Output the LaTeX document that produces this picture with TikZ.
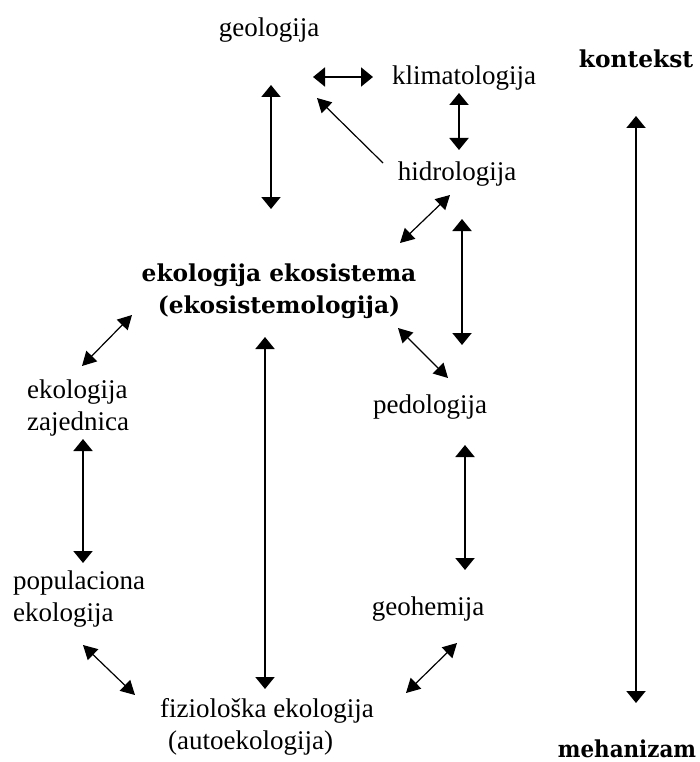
\documentclass[tikz,border=0pt]{standalone}
\usepackage{fontspec}
\usepackage{graphicx}
\setmainfont{Liberation Serif}
\newfontfamily\headfont{DejaVu Serif}[BoldFont={DejaVu Serif Bold}]
\usetikzlibrary{arrows.meta}
\begin{document}
\begin{tikzpicture}[x=1pt,y=-1pt,
  term/.style={inner sep=0pt, font=\fontsize{27}{32}\selectfont},
  keyterm/.style={inner sep=0pt, font=\headfont\bfseries\fontsize{23.3}{32}\selectfont},
  bigarrow/.style={line width=2pt, {Triangle[length=12pt,width=19pt]}-{Triangle[length=12pt,width=19pt]}},
  smallarrow/.style={line width=1.2pt, {Triangle[length=14pt,width=15pt]}-{Triangle[length=14pt,width=15pt]}},
  onearrow/.style={line width=1.2pt, -{Triangle[length=14pt,width=15pt]}}]
\useasboundingbox (0,0) rectangle (699,762);

% labels (multi-line labels are placed by the baseline of their last line)
\node[term, anchor=base] (geo)   at (269,37)  {geologija};
\node[term, anchor=base] (klim)  at (464,85)  {klimatologija};
\node[term, anchor=base] (hidro) at (457,180) {hidrologija};
\node[keyterm, anchor=base] (kont) at (636,68) {kontekst};
\node[keyterm, anchor=base, align=center] (eko) at (279,313) {ekologija ekosistema\\(ekosistemologija)};
\node[term, anchor=base west, align=left] (zaj) at (27,430) {ekologija\\zajednica};
\node[term, anchor=base] (ped) at (430,413) {pedologija};
\node[term, anchor=base west, align=left] (pop) at (13,621) {populaciona\\ekologija};
\node[term, anchor=base] (geoh) at (428,615) {geohemija};
\node[term, anchor=base west, align=left] (fiz) at (160,749) {fiziološka ekologija\\\hspace*{8pt}(autoekologija)};
\node[keyterm, anchor=base] (meh) at (627,757) {\scalebox{0.92}[1]{mehanizam}};

% connector end points
\coordinate (geoT) at (271,85);   \coordinate (geoB) at (271,209);
\coordinate (gkL) at (313,77);    \coordinate (gkR) at (373,77);
\coordinate (khT) at (459,93);    \coordinate (khB) at (459,150);
\coordinate (hgS) at (383,163);   \coordinate (hgE) at (317,98);
\coordinate (heL) at (400,243);   \coordinate (heR) at (450,195);
\coordinate (hpT) at (462,219);   \coordinate (hpB) at (462,345);
\coordinate (epL) at (398,328);   \coordinate (epR) at (448,378);
\coordinate (ezR) at (132,315);   \coordinate (ezL) at (82,366);
\coordinate (efT) at (265,337);   \coordinate (efB) at (265,689);
\coordinate (zpT) at (83,439);    \coordinate (zpB) at (83,563);
\coordinate (pgT) at (465,445);   \coordinate (pgB) at (465,570);
\coordinate (pfL) at (83,645);    \coordinate (pfR) at (135,695);
\coordinate (gfR) at (457,643);   \coordinate (gfL) at (406,693);
\coordinate (kmT) at (636,116);   \coordinate (kmB) at (636,703);

% connectors
\draw[bigarrow] (geoT) -- (geoB);
\draw[bigarrow] (gkL) -- (gkR);
\draw[bigarrow] (khT) -- (khB);
\draw[onearrow] (hgS) -- (hgE);
\draw[smallarrow] (heL) -- (heR);
\draw[bigarrow] (hpT) -- (hpB);
\draw[smallarrow] (epL) -- (epR);
\draw[smallarrow] (ezR) -- (ezL);
\draw[bigarrow] (efT) -- (efB);
\draw[bigarrow] (zpT) -- (zpB);
\draw[bigarrow] (pgT) -- (pgB);
\draw[smallarrow] (pfL) -- (pfR);
\draw[smallarrow] (gfR) -- (gfL);
\draw[bigarrow] (kmT) -- (kmB);
\end{tikzpicture}
\end{document}
